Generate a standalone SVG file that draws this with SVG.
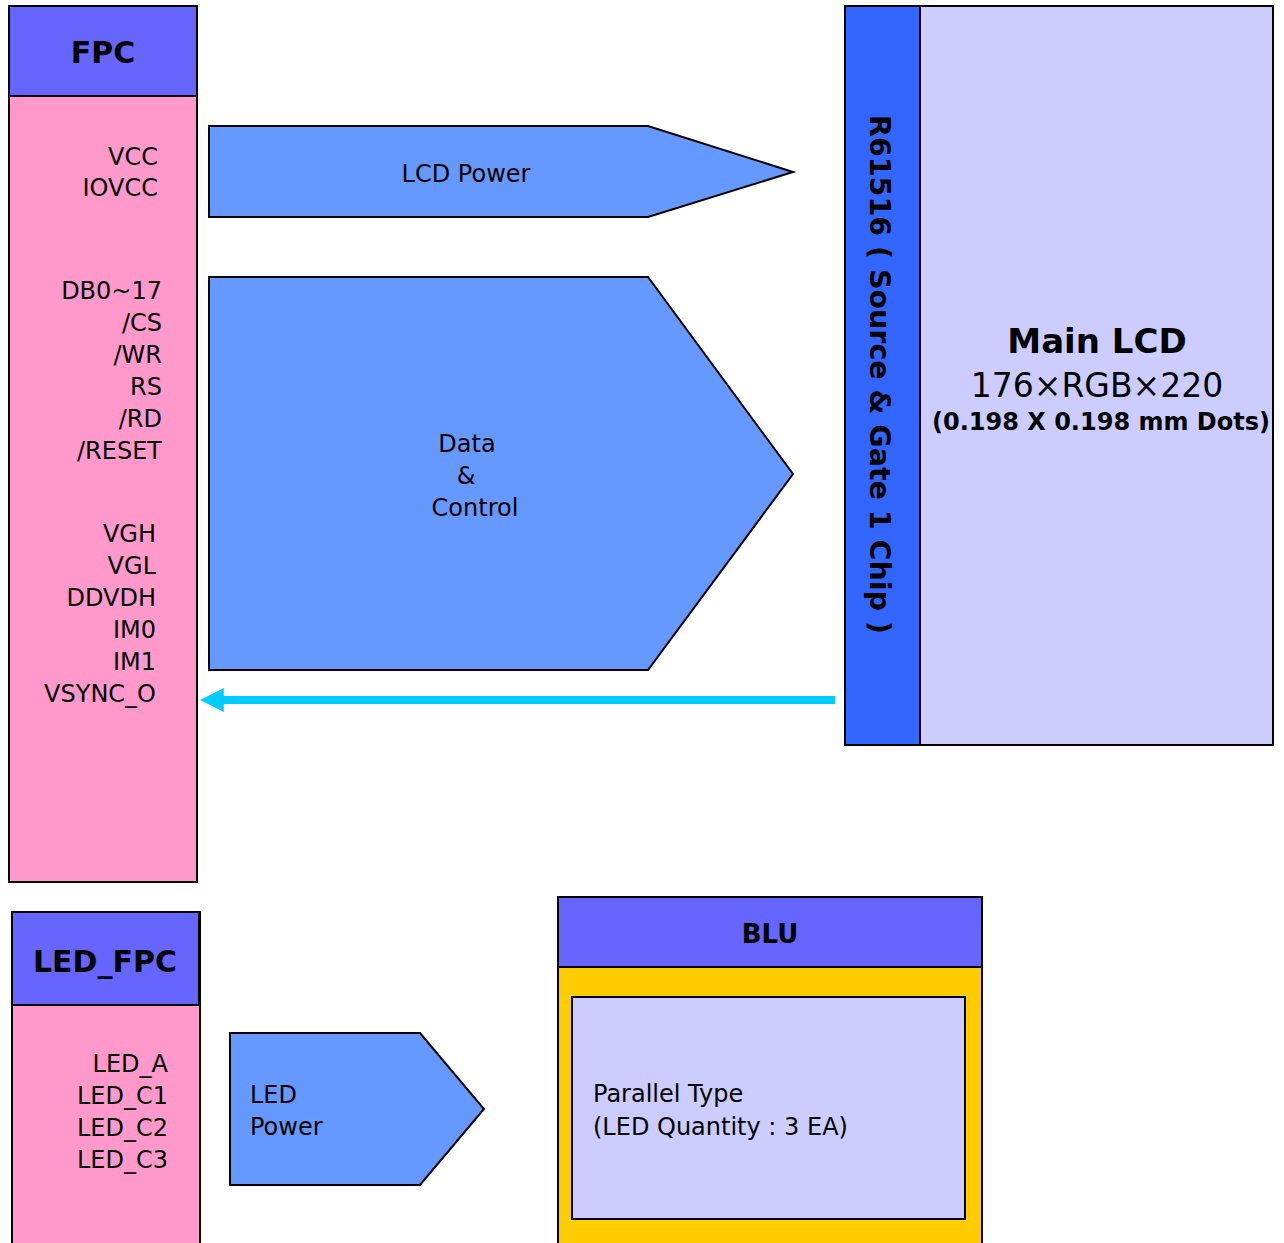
<svg xmlns="http://www.w3.org/2000/svg" width="1284" height="1243" viewBox="0 0 1284 1243">
<style>
text{font-family:"DejaVu Sans","Liberation Sans",sans-serif;fill:#000}
.t{font-size:24px}
.b{font-weight:bold}
.e{text-anchor:end}
.m{text-anchor:middle}
.box{stroke:#000;stroke-width:2}
.hdr{fill:#6666ff}
.pink{fill:#ff99cc}
.arr{fill:#6699ff;stroke:#000;stroke-width:2}
</style>
<defs>
<marker id="ah" markerWidth="3" markerHeight="3" refX="0.1" refY="1.5" orient="auto" markerUnits="strokeWidth">
<path d="M0,0 L3,1.5 L0,3 Z" fill="#00ccff"/>
</marker>
</defs>
<rect width="1284" height="1243" fill="#fff"/>

<g id="fpc">
<rect class="box pink" x="9" y="6" width="188" height="876"/>
<rect class="box hdr" x="9" y="6" width="188" height="90"/>
<text class="b m" x="103" y="63" font-size="30">FPC</text>
<g class="t e">
<text x="158" y="165">VCC</text>
<text x="158" y="196">IOVCC</text>
<text x="162" y="299">DB0~17</text>
<text x="162" y="331">/CS</text>
<text x="162" y="363">/WR</text>
<text x="162" y="395">RS</text>
<text x="162" y="427">/RD</text>
<text x="162" y="459">/RESET</text>
<text x="156" y="542">VGH</text>
<text x="156" y="574">VGL</text>
<text x="156" y="606">DDVDH</text>
<text x="156" y="638">IM0</text>
<text x="156" y="670">IM1</text>
<text x="156" y="702">VSYNC_O</text>
</g>
</g>

<g id="lcd-power">
<polygon class="arr" points="209,126 648,126 793,172 648,217 209,217"/>
<text class="t m" x="466" y="182">LCD Power</text>
</g>

<g id="data-control">
<polygon class="arr" points="209,277 648,277 793,474 648,670 209,670"/>
<text class="t m" x="467" y="452">Data</text>
<text class="t m" x="466" y="484">&amp;</text>
<text class="t m" x="475" y="516">Control</text>
</g>

<g id="chip">
<rect class="box" x="845" y="6" width="75" height="739" fill="#3366ff"/>
<text class="b" font-size="28.5" transform="translate(870,115) rotate(90)">R61516 ( Source &amp; Gate 1 Chip )</text>
</g>

<g id="main-lcd">
<rect class="box" x="920" y="6" width="353" height="739" fill="#ccccff"/>
<text class="b m" x="1097" y="353" font-size="34">Main LCD</text>
<text class="m" x="1097" y="397" font-size="33">176×RGB×220</text>
<text class="b m" x="1101" y="430" font-size="24">(0.198 X 0.198 mm Dots)</text>
</g>

<g id="connectors">
<line x1="835" y1="700" x2="223" y2="700" stroke="#00ccff" stroke-width="8" marker-end="url(#ah)"/>
</g>

<g id="led-fpc">
<rect class="box pink" x="12" y="912" width="188" height="340"/>
<rect class="box hdr" x="12" y="912" width="187" height="93" stroke-width="3"/>
<text class="b m" x="105" y="972" font-size="30">LED_FPC</text>
<g class="t e">
<text x="168" y="1072">LED_A</text>
<text x="168" y="1104">LED_C1</text>
<text x="168" y="1136">LED_C2</text>
<text x="168" y="1168">LED_C3</text>
</g>
</g>

<g id="led-power">
<polygon class="arr" points="230,1033 420,1033 484,1109 420,1185 230,1185"/>
<text class="t" x="250" y="1103">LED</text>
<text class="t" x="250" y="1135">Power</text>
</g>

<g id="blu">
<rect class="box" x="558" y="897" width="424" height="360" fill="#ffcc00"/>
<rect class="box hdr" x="558" y="897" width="424" height="70"/>
<text class="b m" x="770" y="943" font-size="26">BLU</text>
<rect class="box" x="572" y="997" width="393" height="222" fill="#ccccff"/>
<text class="t" x="593" y="1102">Parallel Type</text>
<text class="t" x="593" y="1135">(LED Quantity : 3 EA)</text>
</g>
</svg>
